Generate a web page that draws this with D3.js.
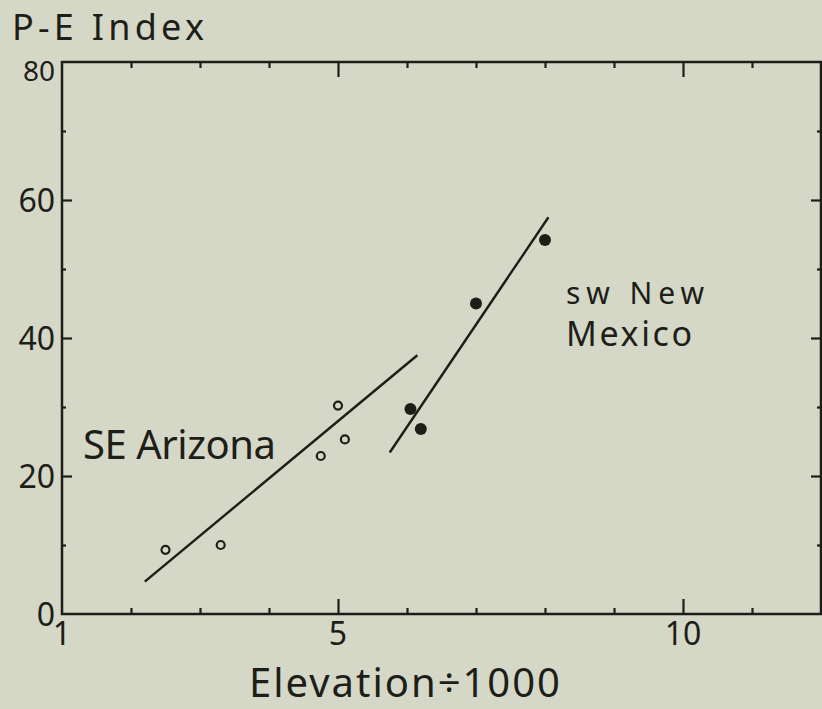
<!DOCTYPE html>
<html>
<head>
<meta charset="utf-8">
<script src="https://cdn.jsdelivr.net/npm/d3@7"></script>
<style>
  html, body { margin: 0; padding: 0; background: #d5d7c7; }
  svg { display: block; }
  text { font-family: "Noto Sans", "DejaVu Sans", sans-serif; fill: #1e1e19; }
</style>
</head>
<body>
<svg id="chart" width="822" height="709"></svg>
<script>
// values
var arizonaElev = [2.5, 3.3, 4.75, 5.0, 5.1];
var arizonaPE = [9.3, 10.0, 22.9, 30.2, 25.3];
var mexicoElev = [6.05, 6.2, 7.0, 8.0];
var mexicoPE = [29.7, 26.8, 45.0, 54.2];

// hand-drawn fit lines (end points)
var arizonaLineElev = [2.2, 6.15];
var arizonaLinePE = [4.7, 37.5];
var mexicoLineElev = [5.75, 8.05];
var mexicoLinePE = [23.4, 57.5];

var xMajorTicks = [1, 5, 10];
var xMinorTicks = [2, 3, 4, 6, 7, 8, 9, 11];
var yMajorTicks = [0, 20, 40, 60, 80];
var yMinorTicks = [10, 30, 50, 70];

var ink = "#1e1e19";
var svg = d3.select("#chart");

var x = d3.scaleLinear().domain([1, 12]).range([62, 821]);
var y = d3.scaleLinear().domain([0, 80]).range([614, 62]);

function styleAxis(g) {
  g.select(".domain").remove();
  g.selectAll("line").attr("stroke", ink).attr("stroke-width", 2.2);
}

// frame
svg.append("rect")
  .attr("x", x(1)).attr("y", y(80))
  .attr("width", x(12) - x(1)).attr("height", y(0) - y(80))
  .attr("fill", "none").attr("stroke", ink).attr("stroke-width", 2.5);

// inward ticks on all four sides
svg.append("g").attr("transform", "translate(0," + y(0) + ")")
  .call(d3.axisBottom(x).tickValues([5, 10]).tickSize(-15).tickFormat(""))
  .call(styleAxis);
svg.append("g").attr("transform", "translate(0," + y(0) + ")")
  .call(d3.axisBottom(x).tickValues(xMinorTicks).tickSize(-6).tickFormat(""))
  .call(styleAxis);
svg.append("g").attr("transform", "translate(0," + y(80) + ")")
  .call(d3.axisTop(x).tickValues([5, 10]).tickSize(-15).tickFormat(""))
  .call(styleAxis);
svg.append("g").attr("transform", "translate(0," + y(80) + ")")
  .call(d3.axisTop(x).tickValues(xMinorTicks).tickSize(-6).tickFormat(""))
  .call(styleAxis);
svg.append("g").attr("transform", "translate(" + x(1) + ",0)")
  .call(d3.axisLeft(y).tickValues([20, 40, 60]).tickSize(-10).tickFormat(""))
  .call(styleAxis);
svg.append("g").attr("transform", "translate(" + x(1) + ",0)")
  .call(d3.axisLeft(y).tickValues(yMinorTicks).tickSize(-4).tickFormat(""))
  .call(styleAxis);
svg.append("g").attr("transform", "translate(" + x(12) + ",0)")
  .call(d3.axisRight(y).tickValues([20, 40, 60]).tickSize(-10).tickFormat(""))
  .call(styleAxis);
svg.append("g").attr("transform", "translate(" + x(12) + ",0)")
  .call(d3.axisRight(y).tickValues(yMinorTicks).tickSize(-4).tickFormat(""))
  .call(styleAxis);

// tick labels
svg.selectAll(".xlab").data(xMajorTicks).enter().append("text")
  .attr("x", function(d) { return x(d); })
  .attr("y", 645)
  .attr("text-anchor", "middle")
  .attr("font-size", 32)
  .text(function(d) { return d; });

svg.selectAll(".ylab").data(yMajorTicks).enter().append("text")
  .attr("x", 55)
  .attr("y", function(d) { return d == 80 ? y(d) + 19 : y(d) + 12; })
  .attr("text-anchor", "end")
  .attr("font-size", function(d) { return d == 80 ? 28 : 32; })
  .text(function(d) { return d; });

// titles
svg.append("text").attr("x", 12).attr("y", 40)
  .attr("font-size", 36).attr("textLength", 192)
  .text("P-E Index");
svg.append("text").attr("x", 249).attr("y", 697)
  .attr("font-size", 40).attr("textLength", 311)
  .text("Elevation÷1000");

// group labels
svg.append("text").attr("x", 83).attr("y", 459)
  .attr("font-size", 40).attr("textLength", 193)
  .text("SE Arizona");
svg.append("text").attr("x", 566).attr("y", 304)
  .attr("font-size", 30).attr("textLength", 138)
  .text("sw New");
svg.append("text").attr("x", 566).attr("y", 346)
  .attr("font-size", 34).attr("textLength", 126)
  .text("Mexico");

// fit lines
var line = d3.line()
  .x(function(d) { return x(d[0]); })
  .y(function(d) { return y(d[1]); });

svg.append("path")
  .datum(d3.zip(arizonaLineElev, arizonaLinePE))
  .attr("d", line).attr("fill", "none")
  .attr("stroke", ink).attr("stroke-width", 2.4);
svg.append("path")
  .datum(d3.zip(mexicoLineElev, mexicoLinePE))
  .attr("d", line).attr("fill", "none")
  .attr("stroke", ink).attr("stroke-width", 2.4);

// points
svg.selectAll(".az").data(d3.zip(arizonaElev, arizonaPE)).enter().append("circle")
  .attr("cx", function(d) { return x(d[0]); })
  .attr("cy", function(d) { return y(d[1]); })
  .attr("r", 4)
  .attr("fill", "none").attr("stroke", ink).attr("stroke-width", 2.2);

svg.selectAll(".nm").data(d3.zip(mexicoElev, mexicoPE)).enter().append("circle")
  .attr("cx", function(d) { return x(d[0]); })
  .attr("cy", function(d) { return y(d[1]); })
  .attr("r", 6)
  .attr("fill", ink);
</script>
</body>
</html>
